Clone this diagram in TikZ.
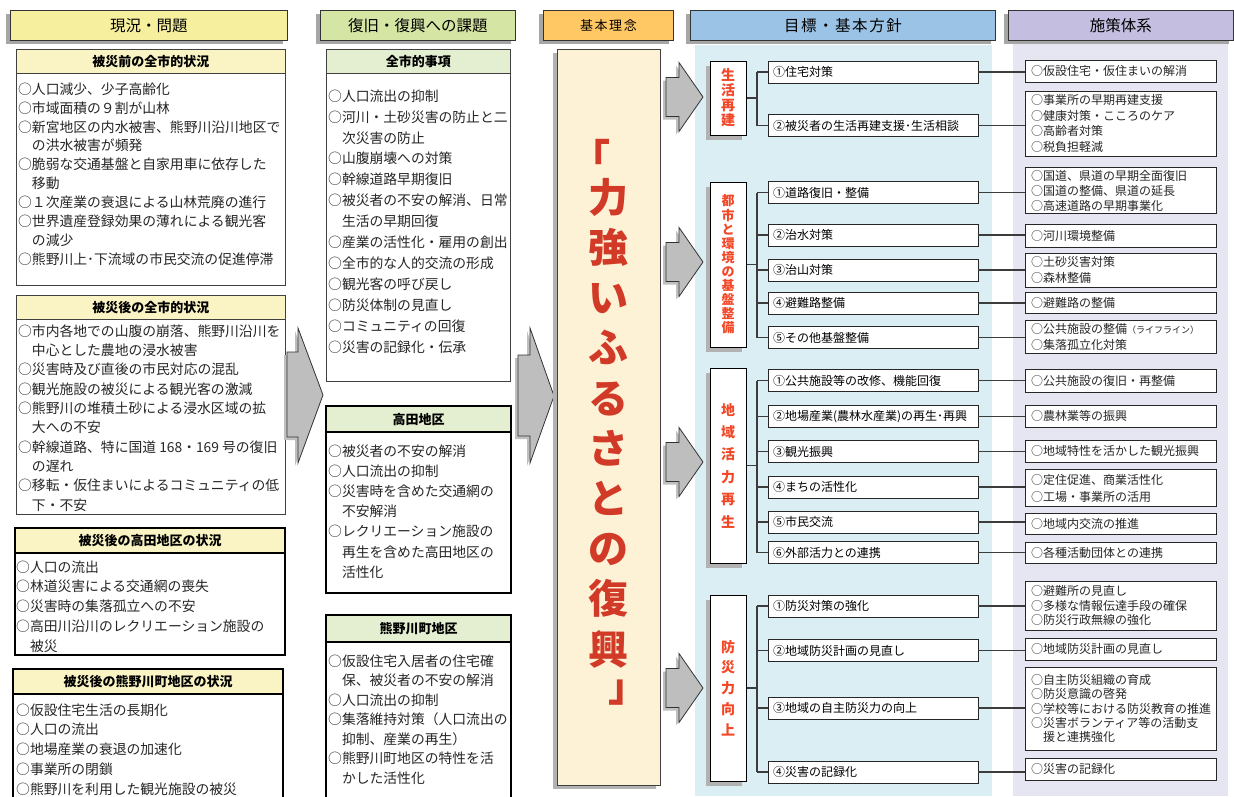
\documentclass[tikz,border=0pt]{standalone}
\usepackage{fontspec}
\setmainfont{Noto Sans CJK JP}
\usetikzlibrary{shadows}
\definecolor{hYel}{RGB}{246,240,158}
\definecolor{sYel}{RGB}{250,244,196}
\definecolor{hGrn}{RGB}{213,229,163}
\definecolor{sGrn}{RGB}{227,239,208}
\definecolor{hOrg}{RGB}{255,200,100}
\definecolor{hBlu}{RGB}{155,195,230}
\definecolor{hLav}{RGB}{196,191,224}
\definecolor{bgBlu}{RGB}{218,238,243}
\definecolor{bgLav}{RGB}{230,229,242}
\definecolor{cream}{RGB}{253,242,214}
\definecolor{redA}{RGB}{210,58,40}
\definecolor{redB}{RGB}{242,72,40}
\definecolor{arrG}{RGB}{190,190,190}
\definecolor{lineG}{RGB}{60,60,60}
\newcommand\txtlines[6]{\foreach \lineT [count=\i from 0] in {#6}{\node[#1] (#2-\i) at ({#3},{#4+\i*#5}) {\lineT};}}
\newcommand\polbox[6]{%
  \node[pbox, minimum height={#3-#2}] (#1) at (1025,#2) {};
  \txtlines{polT}{#1t}{1031}{#4}{#5}{#6}}
\tikzset{
 hdr/.style={draw=black!80, line width=0.9pt, inner sep=0pt, minimum height=30pt, anchor=north west,
   font=\fontsize{15.5}{16}\selectfont,
   drop shadow={shadow xshift=-4pt, shadow yshift=-4pt, fill=black!35, opacity=1}},
 frameG/.style={draw=black!75, line width=0.9pt, fill=white, inner sep=0pt, anchor=north west},
 frameK/.style={draw=black, line width=2.2pt, fill=white, inner sep=0pt, anchor=north west},
 subhG/.style={frameG, font=\bfseries\fontsize{13}{14}\selectfont},
 subhK/.style={frameK, font=\bfseries\fontsize{13}{14}\selectfont},
 bodyT/.style={anchor=west, inner sep=0pt, text height=12.1pt, text depth=1.7pt,
   font=\fontsize{13.8}{14}\selectfont, text=black!85},
 polT/.style={anchor=west, inner sep=0pt, text height=10.6pt, text depth=1.4pt,
   font=\fontsize{12}{13}\selectfont, text=black!85},
 pbox/.style={draw=black!85, line width=0.9pt, fill=white, inner sep=0pt, minimum width=191pt, anchor=north west},
 goalbox/.style={draw=black!85, line width=0.9pt, fill=white, minimum width=210pt, minimum height=22pt,
   text width=200pt, align=left, inner xsep=5pt, inner ysep=0pt, font=\fontsize{12}{14}\selectfont},
 catbox/.style={draw=black, line width=1pt, fill=white, text=redB, align=center, inner sep=0pt,
   minimum width=36pt, drop shadow={shadow xshift=-4pt, shadow yshift=-5pt, fill=black!30, opacity=1}},
 conn/.style={draw=lineG, line width=1.1pt},
 barrow/.style={fill=arrG, draw=black!80, line width=0.8pt, line join=miter,
   drop shadow={shadow xshift=-3pt, shadow yshift=-3pt, fill=black!25, opacity=1}},
 bigred/.style={text=redA, font=\bfseries\fontsize{40}{50.2}\selectfont, inner sep=0pt, align=center},
}
\begin{document}
\begin{tikzpicture}[x=1pt,y=-1pt]
\useasboundingbox (0,0) rectangle (1234,796);
\clip (0,0) rectangle (1234,796);
\fill[white] (0,0) rectangle (1234,796);
\fill[bgBlu] (695,45) rectangle (992,796);
\fill[bgLav] (1013,44) rectangle (1228,796);

% column headers
\node[hdr, fill=hYel, minimum width=277pt] (hNow) at (10,10) {現況・問題};
\node[hdr, fill=hGrn, minimum width=195pt] (hTask) at (320,10) {復旧・復興への課題};
\node[hdr, fill=hOrg, minimum width=130pt, font=\fontsize{13}{13}\selectfont\addfontfeature{LetterSpace=12}] (hIdea) at (543,10) {基本理念};
\node[hdr, fill=hBlu, minimum width=305pt, font=\fontsize{15.5}{16}\selectfont\addfontfeature{LetterSpace=10}] (hGoal) at (690,10) {目標・基本方針};
\node[hdr, fill=hLav, minimum width=225pt] (hPol) at (1008,10) {施策体系};

% column 1
\node[frameG, minimum width=269pt, minimum height=236pt] (fA) at (16,49) {};
\node[subhG, fill=sYel, minimum width=269pt, minimum height=24pt] (hA) at (16,49) {被災前の全市的状況};
\txtlines{bodyT}{tA}{18}{89}{18.9}{○人口減少、少子高齢化,○市域面積の９割が山林,○新宮地区の内水被害、熊野川沿川地区で,　の洪水被害が頻発,○脆弱な交通基盤と自家用車に依存した,　移動,○１次産業の衰退による山林荒廃の進行,○世界遺産登録効果の薄れによる観光客,　の減少,○熊野川上･下流域の市民交流の促進停滞}

\node[frameG, minimum width=269pt, minimum height=219pt] (fB) at (16,295) {};
\node[subhG, fill=sYel, minimum width=269pt, minimum height=24pt] (hB) at (16,295) {被災後の全市的状況};
\txtlines{bodyT}{tB}{18}{331}{19.33}{○市内各地での山腹の崩落、熊野川沿川を,　中心とした農地の浸水被害,○災害時及び直後の市民対応の混乱,○観光施設の被災による観光客の激減,○熊野川の堆積土砂による浸水区域の拡,　大への不安,○幹線道路、特に国道 168・169 号の復旧,　の遅れ,○移転・仮住まいによるコミュニティの低,　下・不安}

\node[frameK, minimum width=270pt, minimum height=127pt] (fC) at (14,527) {};
\node[subhK, fill=sYel, minimum width=270pt, minimum height=25pt] (hC) at (14,527) {被災後の高田地区の状況};
\txtlines{bodyT}{tC}{16}{567}{19.75}{○人口の流出,○林道災害による交通網の喪失,○災害時の集落孤立への不安,○高田川沿川のレクリエーション施設の,　被災}

\node[frameK, minimum width=270pt, minimum height=150pt] (fD) at (12,668) {};
\node[subhK, fill=sYel, minimum width=270pt, minimum height=25pt] (hD) at (12,668) {被災後の熊野川町地区の状況};
\txtlines{bodyT}{tD}{16}{710}{19.75}{○仮設住宅生活の長期化,○人口の流出,○地場産業の衰退の加速化,○事業所の閉鎖,○熊野川を利用した観光施設の被災}

% column 2
\node[frameG, minimum width=184pt, minimum height=332pt] (fE) at (326,49) {};
\node[subhG, fill=sGrn, minimum width=184pt, minimum height=24pt] (hE) at (326,49) {全市的事項};
\txtlines{bodyT}{tE}{328}{96}{20.9}{○人口流出の抑制,○河川・土砂災害の防止と二,　次災害の防止,○山腹崩壊への対策,○幹線道路早期復旧,○被災者の不安の解消、日常,　生活の早期回復,○産業の活性化・雇用の創出,○全市的な人的交流の形成,○観光客の呼び戻し,○防災体制の見直し,○コミュニティの回復,○災害の記録化・伝承}

\node[frameK, minimum width=185pt, minimum height=187pt] (fF) at (325,405) {};
\node[subhK, fill=sGrn, minimum width=185pt, minimum height=26pt] (hF) at (325,405) {高田地区};
\txtlines{bodyT}{tF}{328}{451}{20.17}{○被災者の不安の解消,○人口流出の抑制,○災害時を含めた交通網の,　不安解消,○レクリエーション施設の,　再生を含めた高田地区の,　活性化}

\node[frameK, minimum width=185pt, minimum height=200pt] (fG) at (325,614) {};
\node[subhK, fill=sGrn, minimum width=185pt, minimum height=27pt] (hG) at (325,614) {熊野川町地区};
\txtlines{bodyT}{tG}{328}{661}{19.5}{○仮設住宅入居者の住宅確,　保、被災者の不安の解消,○人口流出の抑制,○集落維持対策（人口流出の,　抑制、産業の再生）,○熊野川町地区の特性を活,　かした活性化}

% big arrows
\draw[barrow] (287,352) -- (298,352) -- (298,328) -- (323,395) -- (298,463) -- (298,437) -- (287,437) -- cycle;
\draw[barrow] (518,355) -- (530,355) -- (530,328) -- (554,396) -- (530,463) -- (530,436) -- (518,436) -- cycle;

% centre concept
\node[frameG, fill=cream, minimum width=103pt, minimum height=736pt,
  drop shadow={shadow xshift=-4pt, shadow yshift=-4pt, fill=black!30, opacity=1}] (mid) at (557,49) {};
\node[bigred] (midT) at (608.5,423) {力\\強\\い\\ふ\\る\\さ\\と\\の\\復\\興};
\node[bigred, text height=35.2pt, text depth=4.8pt] (midL) at (590,158) {「};
\node[bigred, text height=35.2pt, text depth=4.8pt] (midR) at (628,686) {」};

% small arrows
\foreach \yc in {97,262,462,688}{
  \draw[barrow] (666,\yc-19.5) -- (679,\yc-19.5) -- (679,\yc-34.5) -- (703,\yc) -- (679,\yc+34.5) -- (679,\yc+19.5) -- (666,\yc+19.5) -- cycle;
}

% goal categories
\node[catbox, minimum height=74pt, font=\bfseries\fontsize{14}{15}\selectfont] (c1) at (728,98) {生\\活\\再\\建};
\node[catbox, minimum height=165pt, font=\bfseries\fontsize{13}{14.1}\selectfont] (c2) at (728,264.5) {都\\市\\と\\環\\境\\の\\基\\盤\\整\\備};
\node[catbox, minimum height=195pt, font=\bfseries\fontsize{14}{22.4}\selectfont] (c3) at (728,465.5) {地\\域\\活\\力\\再\\生};
\node[catbox, minimum height=186pt, font=\bfseries\fontsize{14}{20.8}\selectfont] (c4) at (728,688) {防\\災\\力\\向\\上};

% goal items
\node[goalbox] (g11) at (873,72) {①住宅対策};
\node[goalbox] (g12) at (873,125.5) {②被災者の生活再建支援･生活相談};
\node[goalbox] (g21) at (873,192.5) {①道路復旧・整備};
\node[goalbox] (g22) at (873,235) {②治水対策};
\node[goalbox] (g23) at (873,270) {③治山対策};
\node[goalbox] (g24) at (873,303) {④避難路整備};
\node[goalbox] (g25) at (873,337.5) {⑤その他基盤整備};
\node[goalbox] (g31) at (873,380.5) {①公共施設等の改修、機能回復};
\node[goalbox] (g32) at (873,416.5) {②地場産業(農林水産業)の再生･再興};
\node[goalbox] (g33) at (873,451.5) {③観光振興};
\node[goalbox] (g34) at (873,487) {④まちの活性化};
\node[goalbox] (g35) at (873,522) {⑤市民交流};
\node[goalbox] (g36) at (873,552.5) {⑥外部活力との連携};
\node[goalbox] (g41) at (873,606) {①防災対策の強化};
\node[goalbox] (g42) at (873,650.5) {②地域防災計画の見直し};
\node[goalbox] (g43) at (873,708) {③地域の自主防災力の向上};
\node[goalbox] (g44) at (873,772) {④災害の記録化};

% tree connectors
\coordinate (tx) at (757,0);
\draw[conn] (c1.east) -- (c1.east -| tx);
\draw[conn] (g11.west -| tx) -- (g12.west -| tx);
\foreach \g in {g11,g12}{\draw[conn] (\g.west) -- (\g.west -| tx);}
\draw[conn] (c2.east) -- (c2.east -| tx);
\draw[conn] (g21.west -| tx) -- (g25.west -| tx);
\foreach \g in {g21,g22,g23,g24,g25}{\draw[conn] (\g.west) -- (\g.west -| tx);}
\draw[conn] (c3.east) -- (c3.east -| tx);
\draw[conn] (g31.west -| tx) -- (g36.west -| tx);
\foreach \g in {g31,g32,g33,g34,g35,g36}{\draw[conn] (\g.west) -- (\g.west -| tx);}
\draw[conn] (c4.east) -- (c4.east -| tx);
\draw[conn] (g41.west -| tx) -- (g44.west -| tx);
\foreach \g in {g41,g42,g43,g44}{\draw[conn] (\g.west) -- (\g.west -| tx);}

% policy boxes
\polbox{p1}{60}{82}{71}{15}{○仮設住宅・仮住まいの解消}
\polbox{p2}{91}{156}{100}{15.5}{○事業所の早期再建支援,○健康対策・こころのケア,○高齢者対策,○税負担軽減}
\polbox{p3}{167}{213}{176}{15}{○国道、県道の早期全面復旧,○国道の整備、県道の延長,○高速道路の早期事業化}
\polbox{p4}{224}{247}{235.5}{15}{○河川環境整備}
\polbox{p5}{253}{287}{262}{16}{○土砂災害対策,○森林整備}
\polbox{p6}{292}{313}{302.5}{15}{○避難路の整備}
\polbox{p7}{320}{353}{328.5}{16}{{○公共施設の整備{\fontsize{9}{9}\selectfont（ライフライン）}},○集落孤立化対策}
\polbox{p8}{369}{392}{380.5}{15}{○公共施設の復旧・再整備}
\polbox{p9}{405}{427}{416}{15}{○農林業等の振興}
\polbox{p10}{440}{462}{451}{15}{○地域特性を活かした観光振興}
\polbox{p11}{469}{506}{479.5}{17}{○定住促進、商業活性化,○工場・事業所の活用}
\polbox{p12}{513}{534}{523.5}{15}{○地域内交流の推進}
\polbox{p13}{542}{563}{552.5}{15}{○各種活動団体との連携}
\polbox{p14}{581}{630}{591}{14.5}{○避難所の見直し,○多様な情報伝達手段の確保,○防災行政無線の強化}
\polbox{p15}{638}{660}{649}{15}{○地域防災計画の見直し}
\polbox{p16}{667}{750}{680}{14.3}{○自主防災組織の育成,○防災意識の啓発,○学校等における防災教育の推進,○災害ボランティア等の活動支,　援と連携強化}
\polbox{p17}{758}{780}{769}{15}{○災害の記録化}

% goal -> policy connectors
\draw[conn] (g11.east) -- (g11.east -| p1.west);
\draw[conn] (g12.east) -- (g12.east -| p2.west);
\draw[conn] (g21.east) -- (g21.east -| p3.west);
\draw[conn] (g22.east) -- (g22.east -| p4.west);
\draw[conn] (g23.east) -- (g23.east -| p5.west);
\draw[conn] (g24.east) -- (g24.east -| p6.west);
\draw[conn] (g25.east) -- (g25.east -| p7.west);
\draw[conn] (g31.east) -- (g31.east -| p8.west);
\draw[conn] (g32.east) -- (g32.east -| p9.west);
\draw[conn] (g33.east) -- (g33.east -| p10.west);
\draw[conn] (g34.east) -- (g34.east -| p11.west);
\draw[conn] (g35.east) -- (g35.east -| p12.west);
\draw[conn] (g36.east) -- (g36.east -| p13.west);
\draw[conn] (g41.east) -- (g41.east -| p14.west);
\draw[conn] (g42.east) -- (g42.east -| p15.west);
\draw[conn] (g43.east) -- (g43.east -| p16.west);
\draw[conn] (g44.east) -- (g44.east -| p17.west);
\end{tikzpicture}
\end{document}
